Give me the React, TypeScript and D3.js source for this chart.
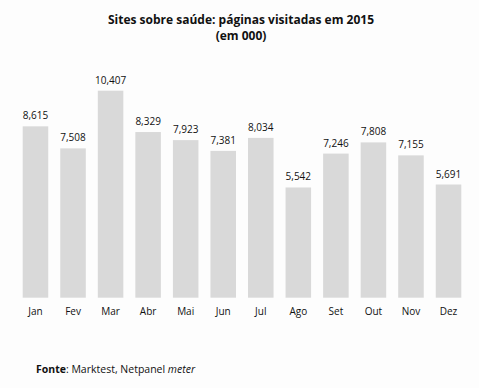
import React from 'react';
import * as d3 from 'd3';

// Páginas visitadas (milhares), 2015
const months = ['Jan', 'Fev', 'Mar', 'Abr', 'Mai', 'Jun', 'Jul', 'Ago', 'Set', 'Out', 'Nov', 'Dez'];
const values = [8615, 7508, 10407, 8329, 7923, 7381, 8034, 5542, 7246, 7808, 7155, 5691];

const titleLines = ['Sites sobre saúde: páginas visitadas em 2015', '(em 000)'];

const W = 479;
const H = 388;
const baseY = 297.7;
const topY = 90.7;

const font = "'Open Sans', 'DejaVu Sans', sans-serif";

export default function App() {
  const x = d3.scaleBand<string>()
    .domain(months)
    .range([16.7, 467.3])
    .paddingInner(0.32)
    .paddingOuter(0.16);

  const y = d3.scaleLinear()
    .domain([0, 10407])
    .range([baseY, topY]);

  const fmt = d3.format(',');

  return (
    <svg
      width={W}
      height={H}
      style={{ position: 'absolute', left: 0, top: 0, background: '#fdfdfd' }}
      fontFamily={font}
    >
      <rect x={0} y={0} width={W} height={H} fill="#fdfdfd" />
      {titleLines.map((t, i) => (
        <text
          key={t}
          x={241}
          y={23.5 + i * 16.5}
          textAnchor="middle"
          fontSize={12}
          fontWeight={700}
          fill="#111"
        >
          {t}
        </text>
      ))}
      <g>
        {months.map((m, i) => (
          <rect
            key={m}
            x={x(m)}
            y={y(values[i])}
            width={x.bandwidth()}
            height={baseY - y(values[i])}
            fill="#d9d9d9"
          />
        ))}
        {months.map((m, i) => (
          <text
            key={'v' + m}
            x={(x(m) ?? 0) + x.bandwidth() / 2}
            y={y(values[i]) - 7}
            textAnchor="middle"
            fontSize={10}
            fill="#111"
          >
            {fmt(values[i])}
          </text>
        ))}
        {months.map(m => (
          <text
            key={'l' + m}
            x={(x(m) ?? 0) + x.bandwidth() / 2}
            y={314.5}
            textAnchor="middle"
            fontSize={10}
            fill="#111"
          >
            {m}
          </text>
        ))}
      </g>
      <text x={36} y={372.5} fontSize={10.5} fill="#111">
        <tspan fontWeight={700}>Fonte</tspan>
        <tspan>: Marktest, Netpanel </tspan>
        <tspan fontStyle="italic">meter</tspan>
      </text>
    </svg>
  );
}
